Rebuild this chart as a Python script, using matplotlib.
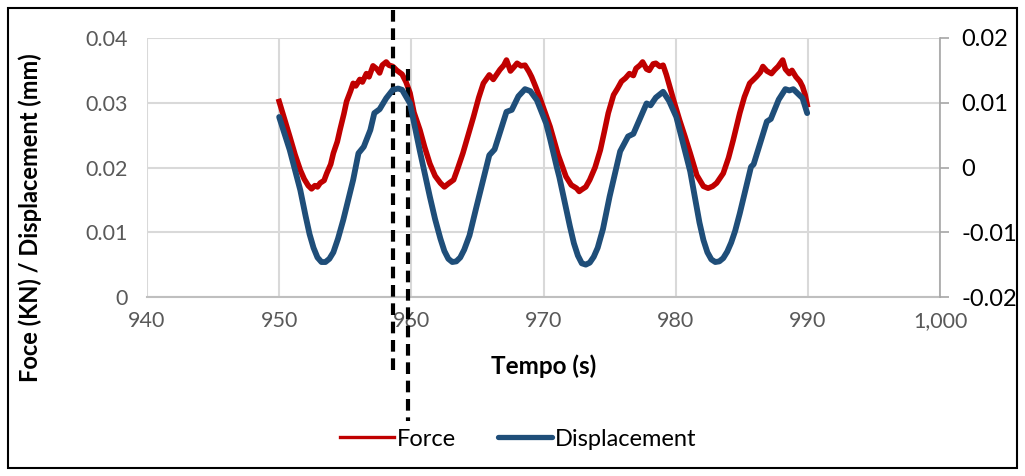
import matplotlib
matplotlib.use("Agg")
import matplotlib.pyplot as plt
from matplotlib.lines import Line2D
from matplotlib.patches import Rectangle
from matplotlib.transforms import blended_transform_factory
from matplotlib.ticker import FuncFormatter

plt.rcParams['font.family'] = ['Lato', 'DejaVu Sans']

# ---------------- data ----------------
disp_t = [950.0, 950.8, 951.6, 952.0, 952.3, 952.6, 952.9, 953.2, 953.5, 953.8,
          954.1, 954.45, 954.85, 955.6,
          956.0, 956.4, 956.9, 957.2, 957.6, 958.1, 958.6, 959.0, 959.3, 959.9,
          960.65, 961.4, 961.8, 962.2, 962.5, 962.8, 963.1, 963.4, 963.7, 964.0,
          964.4, 964.9, 965.9, 966.3,
          967.2, 967.6, 968.1, 968.6, 969.0, 969.5, 970.2, 970.5, 971.0, 971.2,
          971.6, 972.0, 972.3, 972.6, 972.9, 973.2, 973.5, 973.8, 974.1, 974.5,
          975.0, 975.8, 976.4, 976.8, 977.8,
          978.1, 978.5, 979.05, 979.5, 980.05, 981.1, 981.8, 982.1, 982.4, 982.7,
          983.0, 983.3, 983.6, 983.9, 984.2, 984.5, 984.85, 985.7, 985.9, 986.9,
          987.2, 987.8, 988.3, 988.6, 988.9, 989.6, 989.95]
# displacement, in the units of the right-hand axis
disp_v = [0.0078, 0.0027, -0.0035, -0.0075, -0.0103, -0.0124, -0.0139, -0.0146, -0.0146, -0.0141,
          -0.0131, -0.0110, -0.0081, -0.0019,
          0.0022, 0.0032, 0.0058, 0.0084, 0.0090, 0.0107, 0.0120, 0.0122, 0.0120, 0.0099,
          0.0025, -0.0045, -0.0080, -0.0110, -0.0129, -0.0141, -0.0146, -0.0145, -0.0139, -0.0127,
          -0.0105, -0.0063, 0.0019, 0.0028,
          0.0086, 0.0089, 0.0110, 0.0121, 0.0118, 0.0104, 0.0068, 0.0044, 0.0001, -0.0015,
          -0.0053, -0.0091, -0.0117, -0.0136, -0.0148, -0.0150, -0.0147, -0.0138, -0.0124, -0.0095,
          -0.0045, 0.0025, 0.0048, 0.0052, 0.0099,
          0.0096, 0.0108, 0.0117, 0.0103, 0.0078, -0.0006, -0.0085, -0.0112, -0.0131, -0.0142,
          -0.0146, -0.0145, -0.0140, -0.0130, -0.0116, -0.0098, -0.0071, 0.0001, 0.0005, 0.0071,
          0.0075, 0.0105, 0.0121, 0.0119, 0.0121, 0.0107, 0.0084]

force_t = [950.0, 950.4, 950.8, 951.2, 951.6, 951.9, 952.2, 952.45, 952.7, 952.9,
           953.1, 953.4, 953.6, 953.9, 954.1, 954.4, 954.6, 954.9, 955.1, 955.4,
           955.6, 955.8, 956.1, 956.3, 956.6, 956.8, 957.1, 957.4, 957.6, 957.8,
           958.1, 958.3, 958.6, 958.9, 959.3, 959.6, 959.9, 960.2, 960.65, 961.0,
           961.4, 961.8, 962.2, 962.5, 962.8, 963.2, 963.5, 963.9, 964.3, 964.7,
           965.1, 965.45, 965.9, 966.2, 966.7, 967.0, 967.2, 967.5, 967.8, 968.0,
           968.3, 968.6, 968.9, 969.1, 969.4, 969.7, 970.1, 970.5, 971.1, 971.7,
           972.1, 972.5, 972.7, 972.9, 973.2, 973.5, 973.9, 974.3, 974.6, 974.9,
           975.3, 975.6, 975.9, 976.2, 976.5, 976.8, 977.0, 977.3, 977.5, 977.8,
           978.0, 978.3, 978.5, 978.8, 979.05, 979.3, 979.55, 979.9, 980.3, 980.7,
           981.1, 981.6, 982.1, 982.45, 982.8, 983.1, 983.6, 984.0, 984.35, 984.85,
           985.2, 985.6, 986.1, 986.4, 986.6, 986.9, 987.25, 987.5, 987.75, 988.1,
           988.3, 988.6, 988.8, 989.1, 989.4, 989.6, 989.8, 989.95]
force_v = [0.0302, 0.0275, 0.0248, 0.0220, 0.0196, 0.0182, 0.0172, 0.0167, 0.0172, 0.0170,
           0.0176, 0.0180, 0.0191, 0.0205, 0.0222, 0.0240, 0.0258, 0.0283, 0.0302, 0.0318,
           0.0330, 0.0326, 0.0336, 0.0332, 0.0345, 0.0340, 0.0357, 0.0352, 0.0346, 0.0358,
           0.0363, 0.0358, 0.0356, 0.0350, 0.0344, 0.0332, 0.0315, 0.0285, 0.0258, 0.0232,
           0.0206, 0.0187, 0.0176, 0.0170, 0.0175, 0.0181, 0.0198, 0.0222, 0.0250, 0.0278,
           0.0308, 0.0330, 0.0343, 0.0336, 0.0351, 0.0358, 0.0366, 0.0349, 0.0356, 0.0361,
           0.0357, 0.0358, 0.0348, 0.0340, 0.0325, 0.0309, 0.0286, 0.0263, 0.0220, 0.0186,
           0.0173, 0.0168, 0.0163, 0.0166, 0.0170, 0.0181, 0.0200, 0.0227, 0.0255, 0.0284,
           0.0312, 0.0322, 0.0333, 0.0338, 0.0345, 0.0342, 0.0353, 0.0358, 0.0363, 0.0352,
           0.0350, 0.0360, 0.0361, 0.0356, 0.0358, 0.0343, 0.0325, 0.0300, 0.0273, 0.0248,
           0.0222, 0.0188, 0.0171, 0.0168, 0.0171, 0.0176, 0.0191, 0.0215, 0.0242, 0.0284,
           0.0309, 0.0330, 0.0340, 0.0347, 0.0356, 0.0349, 0.0345, 0.0351, 0.0356, 0.0366,
           0.0352, 0.0345, 0.0350, 0.0340, 0.0333, 0.0325, 0.0312, 0.0297]

x_ticks = [940, 950, 960, 970, 980, 990, 1000]
left_ticks = [0, 0.01, 0.02, 0.03, 0.04]
right_ticks = [-0.02, -0.01, 0, 0.01, 0.02]
marker_lines_t = [958.6, 959.75]

# ---------------- figure ----------------
W, H = 1025, 476
fig = plt.figure(figsize=(W / 100, H / 100), dpi=100)
fig.patch.set_facecolor('white')

ax = fig.add_axes([147 / W, 1 - 297 / H, (940 - 147) / W, (297 - 38) / H])
ax2 = ax.twinx()

RED = '#C00000'
BLUE = '#1F4E79'
GRID = '#D9D9D9'
TICKC = '#595959'

ax.plot(force_t, force_v, color=RED, lw=4.0, solid_joinstyle='round', zorder=3)
ax2.plot(disp_t, disp_v, color=BLUE, lw=4.2, solid_joinstyle='round', solid_capstyle='round', zorder=3)

ax.set_xlim(940, 1000)
ax.set_ylim(0, 0.04)
ax2.set_ylim(-0.02, 0.02)
ax.set_xticks(x_ticks)
ax.set_yticks(left_ticks)
ax2.set_yticks(right_ticks)

ax.xaxis.set_major_formatter(FuncFormatter(lambda v, p: f"{int(v):,}"))
ax.yaxis.set_major_formatter(FuncFormatter(lambda v, p: "0" if v == 0 else f"{v:g}"))
ax2.yaxis.set_major_formatter(FuncFormatter(lambda v, p: "0" if v == 0 else f"{v:g}"))

ax.grid(True, color=GRID, lw=1.5, zorder=0)
ax.set_axisbelow(True)

for a in (ax, ax2):
    for s in a.spines.values():
        s.set_visible(False)
ax.spines['bottom'].set_visible(True)
ax.spines['bottom'].set_color('#BFBFBF')
ax.spines['bottom'].set_linewidth(1.5)
ax2.spines['right'].set_visible(True)
ax2.spines['right'].set_color('#A6A6A6')
ax2.spines['right'].set_linewidth(1.2)

ax.tick_params(axis='x', length=0, pad=10, labelsize=15.5, labelcolor=TICKC)
ax.tick_params(axis='y', length=0, pad=14, labelsize=15.5, labelcolor=TICKC)
ax2.tick_params(axis='y', length=6.5, width=1.2, color='#A6A6A6', pad=9, labelsize=17,
                labelcolor='#000000')

ax.set_xlabel('Tempo (s)', fontsize=17.5, fontweight='bold', labelpad=17)
fig.text(30 / W, 1 - 218 / H, 'Foce (KN) / Displacement (mm)', rotation=90,
         fontsize=17, fontweight='bold', ha='center', va='center')

# dashed marker lines spanning beyond the plot area
tr = blended_transform_factory(ax.transData, fig.transFigure)
ax.plot([marker_lines_t[0]] * 2, [1 - 10 / H, 1 - 376 / H], transform=tr, clip_on=False,
        color='black', lw=3, ls=(0, (2.8, 1.6)), zorder=5)
ax.plot([marker_lines_t[1]] * 2, [1 - 69 / H, 1 - 421 / H], transform=tr, clip_on=False,
        color='black', lw=3, ls=(0, (2.8, 1.6)), zorder=5)

# legend
handles = [Line2D([], [], color=RED, lw=2.4), Line2D([], [], color=BLUE, lw=3.8, solid_capstyle='round')]
fig.legend(handles, ['Force', 'Displacement'], loc='center', bbox_to_anchor=(518 / W, 1 - 439 / H),
           ncol=2, frameon=False, fontsize=17, handlelength=2.3, handletextpad=0.1,
           columnspacing=1.8)

# outer chart border
fig.add_artist(Rectangle((8 / W, 8 / H), 1 - 16 / W, 1 - 16 / H, transform=fig.transFigure,
                         fill=False, edgecolor='black', lw=1.5))

fig.savefig('out.png', dpi=100)
